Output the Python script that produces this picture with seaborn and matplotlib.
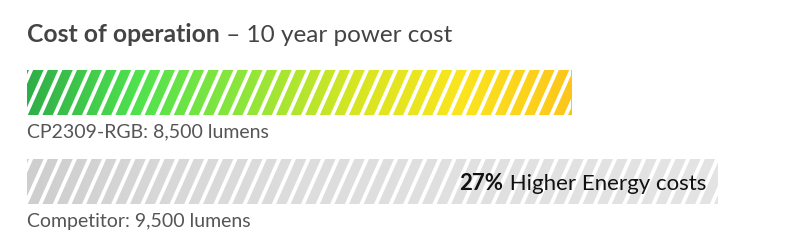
import numpy as np
import pandas as pd
import matplotlib
matplotlib.use("Agg")
import matplotlib.pyplot as plt
import matplotlib.transforms as mtransforms
from matplotlib.colors import LinearSegmentedColormap
from matplotlib.patches import Polygon
import seaborn as sns

# ---- data ----
products = ["CP2309-RGB: 8,500 lumens", "Competitor: 9,500 lumens"]
cost_index = [100, 127]
title_bold = "Cost of operation"
title_rest = " \u2013 10 year power cost"
note_pct = "27%"
note_text = " Higher Energy costs"

sns.set_theme(style="white")
plt.rcParams["font.family"] = ["Lato", "DejaVu Sans"]

W, H, DPI = 800, 250, 100
fig = plt.figure(figsize=(W / DPI, H / DPI), dpi=DPI)
fig.patch.set_facecolor("white")

# axes placed in pixel geometry
left_px, right_px = 27, 718
top_px, bot_px = 48, 226
ax = fig.add_axes([left_px / W, 1 - bot_px / H, (right_px - left_px) / W, (bot_px - top_px) / H])

df = pd.DataFrame({"product": products, "cost": cost_index})
sns.barplot(data=df, x="cost", y="product", orient="h", ax=ax, width=0.506,
            color="white", edgecolor="none", linewidth=0, saturation=1)
ax.set_xlim(0, max(cost_index))
ax.set_ylim(1.5, -0.5)
ax.set_axis_off()

grad_colors = [
    ["#2fae48", "#4fe24e", "#8fe63a", "#d6e522", "#fbe51d", "#fdc51b"],
    ["#cecece", "#d8d8d8", "#dddddd", "#e0e0e0", "#e2e2e2", "#e4e4e4"],
]

fig.canvas.draw()
inv = ax.transData.inverted()
period, gap, shift = 14.6, 4.2, 20.0

for i, patch in enumerate(ax.patches[:len(products)]):
    patch.set_facecolor("none")
    bx0, bx1 = patch.get_x(), patch.get_x() + patch.get_width()
    by0, by1 = patch.get_y(), patch.get_y() + patch.get_height()
    cmap = LinearSegmentedColormap.from_list(f"g{i}", grad_colors[i])
    grad = np.linspace(0, 1, 512).reshape(1, -1)
    im = ax.imshow(grad, cmap=cmap, extent=(bx0, bx1, by1, by0), aspect="auto",
                   interpolation="bilinear", zorder=2)
    im.set_clip_path(patch)
    # diagonal white stripes, built in pixel space from the bar's extent
    bb = patch.get_window_extent()
    x = bb.x0 - shift + 2
    while x < bb.x1 + 2:
        pts_px = [(x, bb.y0), (x + gap, bb.y0), (x + gap + shift, bb.y1), (x + shift, bb.y1)]
        pts = inv.transform(pts_px)
        poly = Polygon(pts, closed=True, facecolor="white", edgecolor="none", zorder=3)
        ax.add_patch(poly)
        poly.set_clip_path(patch)
        x += period
    # caption under bar
    ax.text(0, by1, products[i], ha="left", va="top", fontsize=14, color="#555555",
            transform=mtransforms.offset_copy(ax.transData, fig, x=0, y=-8.5, units="dots"),
            zorder=5)

ax.set_xlim(0, max(cost_index))
ax.set_ylim(1.5, -0.5)

# annotation inside competitor bar
tr = mtransforms.offset_copy(ax.transData, fig, x=-12, y=0, units="dots")
t2 = ax.text(cost_index[1], 1, note_text, ha="right", va="center_baseline", fontsize=16,
             color="#111111", transform=tr, zorder=6)
fig.canvas.draw()
bb2 = t2.get_window_extent()
ax.text(bb2.x0, bb2.y0, note_pct, ha="right", va="bottom", fontsize=16,
        fontweight="bold", color="#111111", transform=None, zorder=6)

# title
r = fig.canvas.get_renderer()
tb = fig.text(left_px / W, 1 - 42 / H, title_bold, ha="left", va="baseline",
              fontsize=17.8, fontweight="bold", color="#444444")
fig.canvas.draw()
ext = tb.get_window_extent(r)
fig.text(ext.x1 / W, 1 - 42 / H, title_rest, ha="left", va="baseline",
         fontsize=17.5, color="#444444")

fig.savefig("out.png", dpi=DPI, facecolor="white")
